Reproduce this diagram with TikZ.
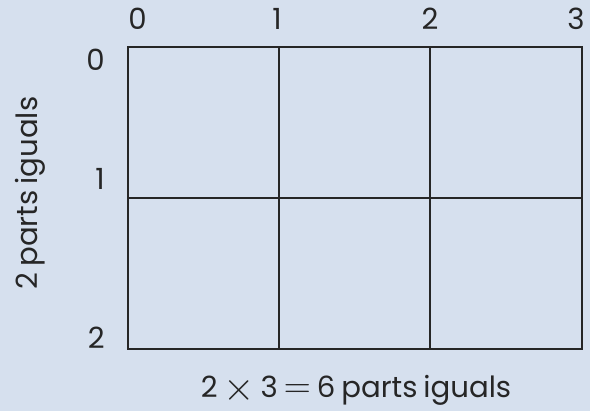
\documentclass[tikz,border=0pt]{standalone}
\usepackage{fontspec}
\setmainfont{Poppins}
\usetikzlibrary{positioning}
\definecolor{bgblue}{HTML}{D6E0EE}
\definecolor{ink}{HTML}{262626}
\newcommand{\bigtimes}{\mathbin{\vcenter{\hbox{\scalebox{1.4}{$\times$}}}}}
\newcommand{\bigequals}{\mathrel{\vcenter{\hbox{\scalebox{1.25}{$=$}}}}}
\newcommand{\tightsp}{\spaceskip 0.2em\relax}

\begin{document}
\begin{tikzpicture}[
    x=0.5pt, y=-0.5pt, font=\fontsize{14.6}{18}\selectfont,
    num/.style={inner sep=0pt, text=ink},
    gridline/.style={draw=ink, line width=0.6pt}
  ]
  \fill[bgblue] (0,0) rectangle (590,411);
  \useasboundingbox (0,0) rectangle (590,411);

  % grid 2 x 3
  \draw[gridline] (128,47) rectangle (582,349);
  \draw[gridline] (279,47) -- (279,349);
  \draw[gridline] (430,47) -- (430,349);
  \draw[gridline] (128,198) -- (582,198);

  % column marks
  \node[num, anchor=base west] (top0) at (128,29.5) {0};
  \node[num, anchor=base] (top1) at (277,29.5) {1};
  \node[num, anchor=base] (top2) at (430,29.5) {2};
  \node[num, anchor=base east] (top3) at (585,29.5) {3};

  % row marks
  \node[num, anchor=base east] (left0) at (105,71) {0};
  \node[num, anchor=base east] (left1) at (105,190) {1};
  \node[num, anchor=base east] (left2) at (105,349) {2};

  \node[num, rotate=90, anchor=base] (rowtext) at (38,193)
    {\tightsp 2 parts iguals};
  \node[num, anchor=base] (sumtext) at (356,398)
    {\tightsp 2 $\bigtimes$ 3 $\bigequals$ 6 parts iguals};
\end{tikzpicture}
\end{document}
